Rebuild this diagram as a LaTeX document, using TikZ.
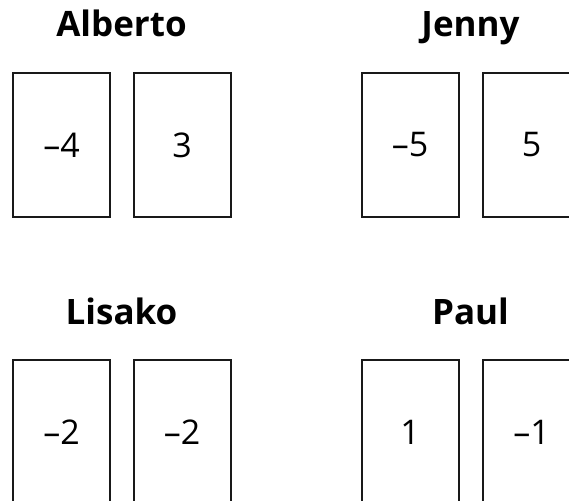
\documentclass[tikz,border=0pt]{standalone}
\usepackage{fontspec}
\setmainfont{Open Sans}
\begin{document}
\begin{tikzpicture}[x=1pt,y=-1pt,
  card/.style={draw=black!90, line width=2pt, minimum width=97pt, minimum height=144pt, inner sep=0pt, font=\fontsize{34}{38}\selectfont},
  title/.style={font=\fontsize{35}{38}\selectfont\bfseries, anchor=base, inner sep=0pt}]
\useasboundingbox (0,0) rectangle (569,500);
\clip (0,0) rectangle (569,500);
% titles
\node[title] (tA) at (121.5,37) {Alberto};
\node[title] (tJ) at (470.5,37) {Jenny};
\node[title] (tL) at (121.5,324) {Lisako};
\node[title] (tP) at (470.5,324) {Paul};
% upper cards
\node[card] (a1) at (61.5,145) {–4};
\node[card] (a2) at (182,145) {3};
\node[card] (j1) at (410,145) {–5};
\node[card] (j2) at (531.5,145) {5};
% lower cards
\node[card] (l1) at (61.5,432) {–2};
\node[card] (l2) at (182,432) {–2};
\node[card] (p1) at (410,432) {1};
\node[card] (p2) at (531.5,432) {–1};
\end{tikzpicture}
\end{document}
